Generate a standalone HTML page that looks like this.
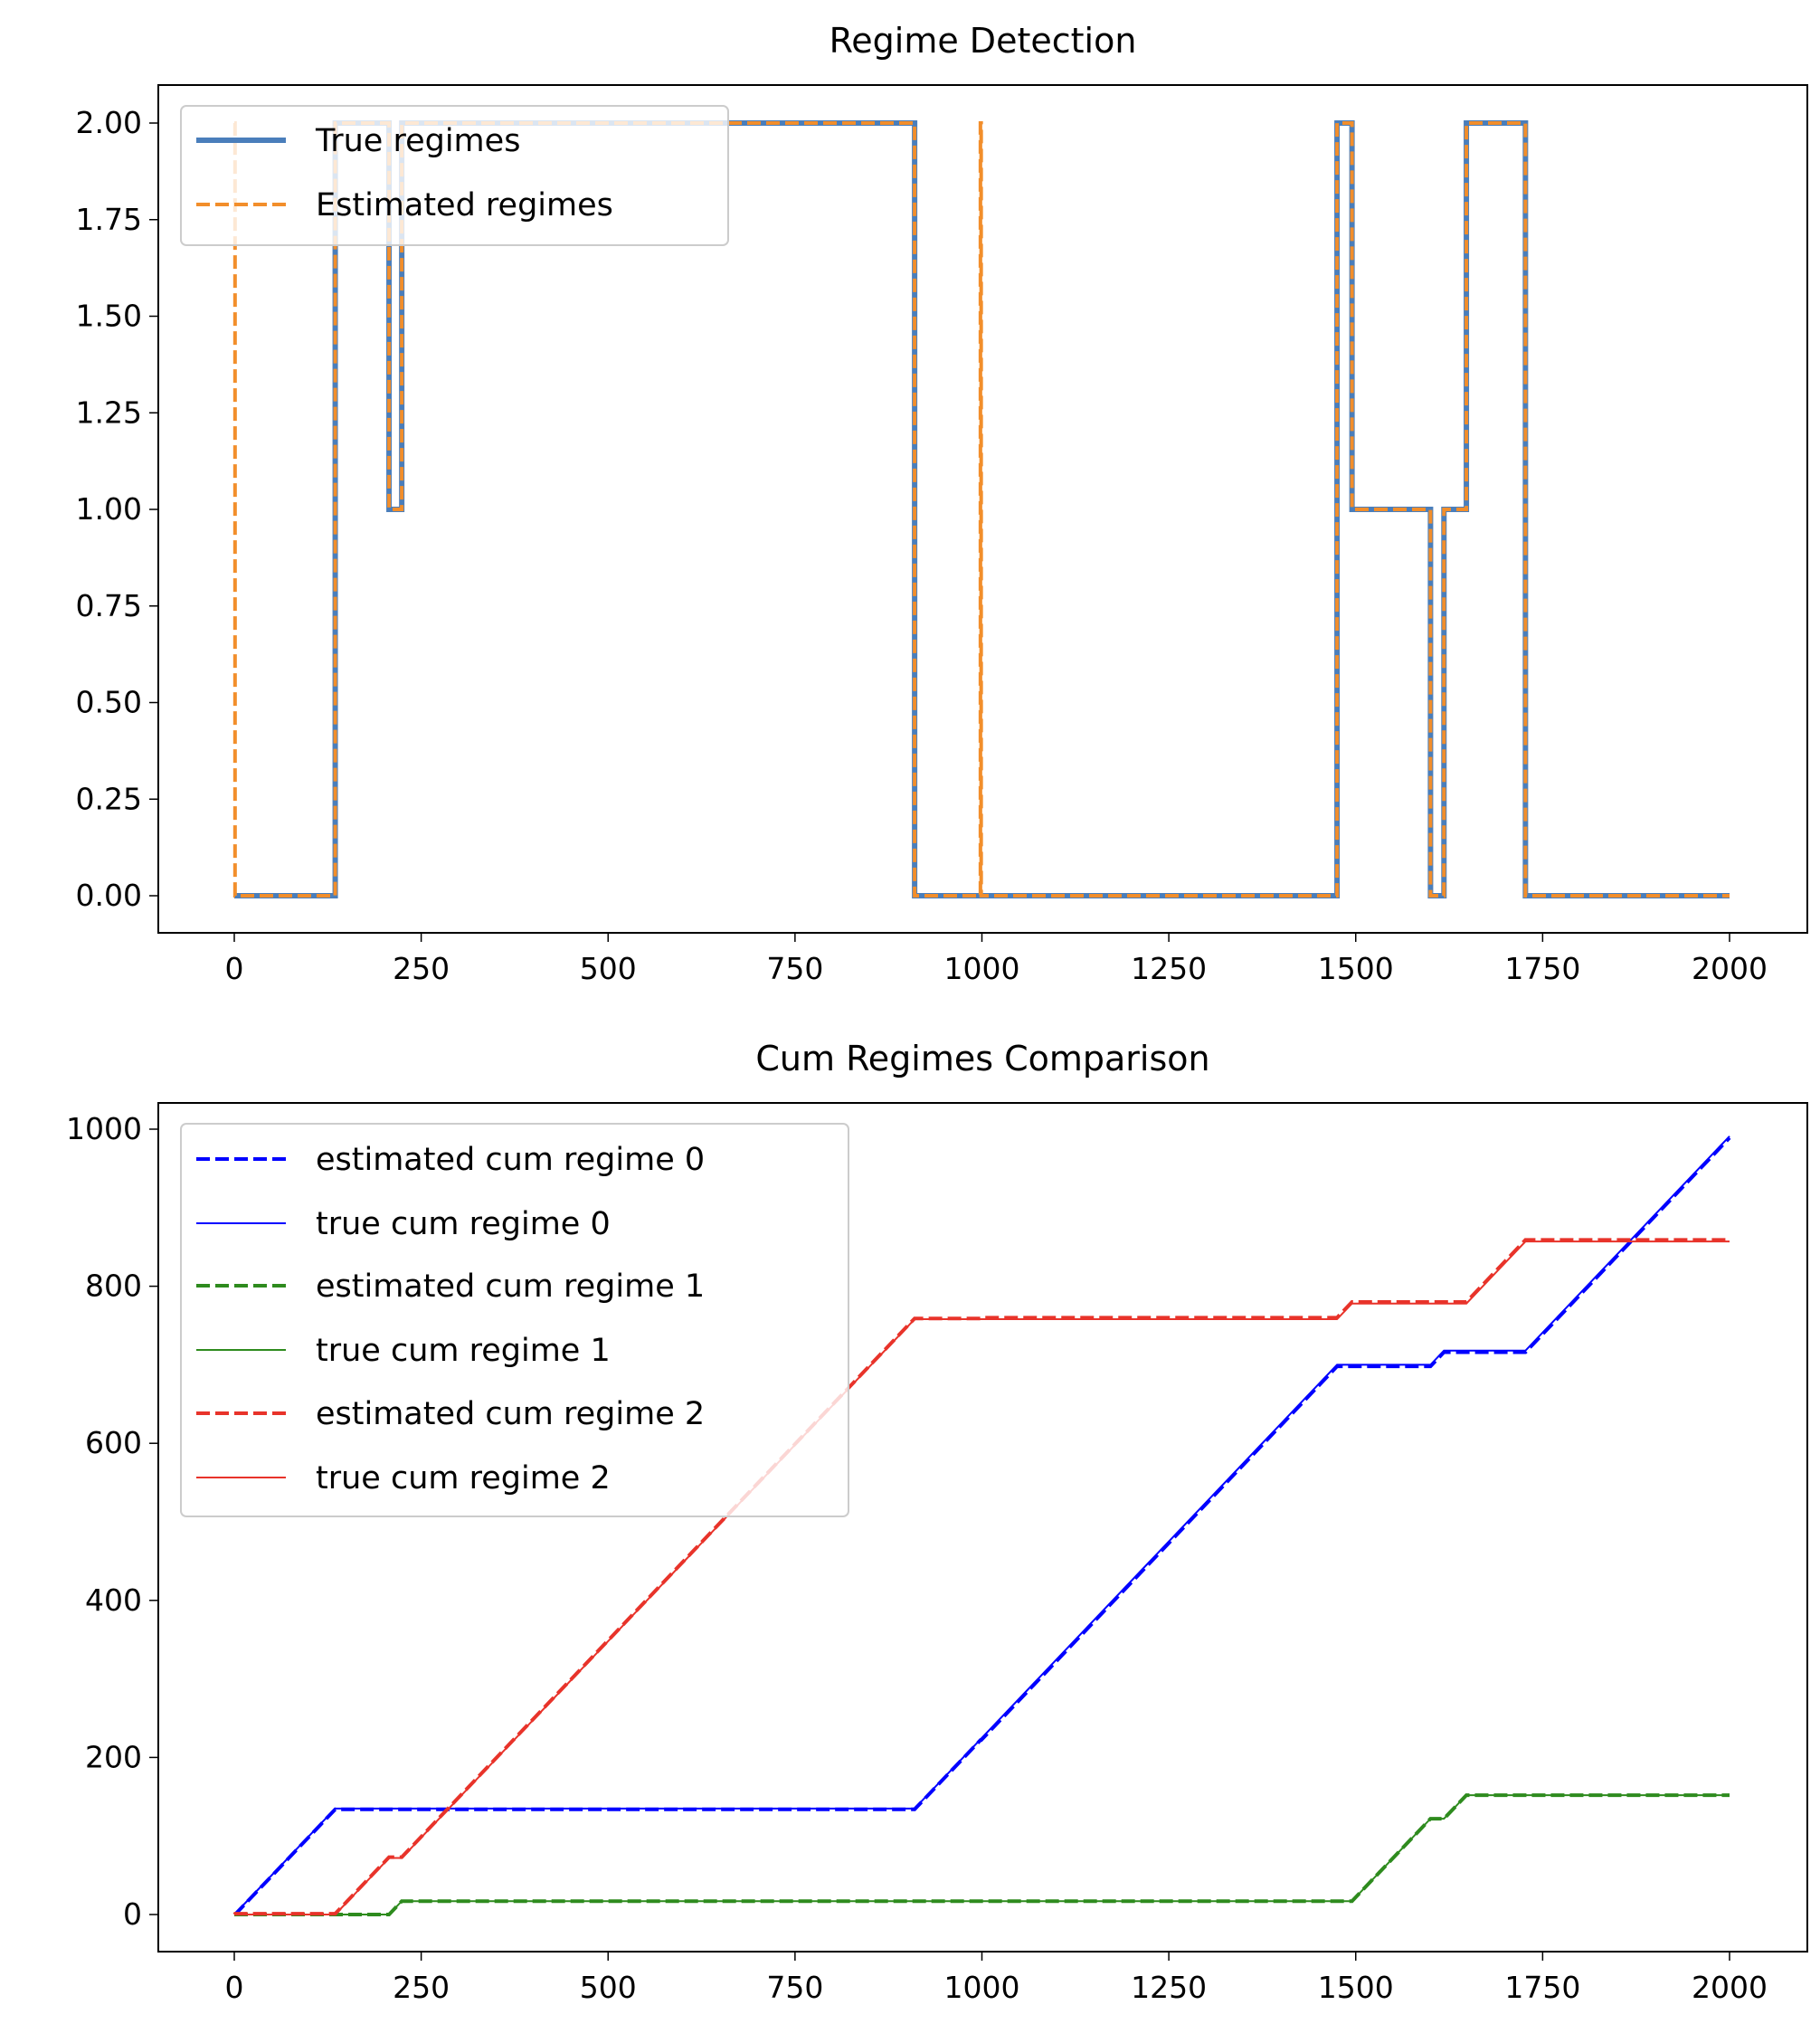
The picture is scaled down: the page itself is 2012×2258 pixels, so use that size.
<!DOCTYPE html>
<html><head><meta charset="utf-8"><style>
html,body{margin:0;padding:0;background:#fff;}
svg{display:block;font-family:"DejaVu Sans","Liberation Sans",sans-serif;}
</style></head><body>
<svg id="fig" width="2012" height="2258" viewBox="0 0 2012 2258" xmlns="http://www.w3.org/2000/svg"></svg>
<script>
// Regime segments (start, end, regime)
const segStarts = [0, 135, 207, 224, 910, 1475, 1495, 1600, 1618, 1648, 1727];
const segEnds   = [135, 207, 224, 910, 1475, 1495, 1600, 1618, 1648, 1727, 2000];
const trueRegimes = [0, 2, 1, 2, 0, 2, 1, 0, 1, 2, 0];
const estStarts = [0, 1, 135, 207, 224, 910, 998, 999, 1475, 1495, 1600, 1618, 1648, 1727];
const estEnds   = [1, 135, 207, 224, 910, 998, 999, 1475, 1495, 1600, 1618, 1648, 1727, 2000];
const estRegimes = [2, 0, 2, 1, 2, 0, 2, 0, 2, 1, 0, 1, 2, 0];
const xTicks = [0, 250, 500, 750, 1000, 1250, 1500, 1750, 2000];
const yTicksTop = [0, 0.25, 0.5, 0.75, 1.0, 1.25, 1.5, 1.75, 2.0];
const yTicksBot = [0, 200, 400, 600, 800, 1000];

const NS = "http://www.w3.org/2000/svg";
const svg = document.getElementById('fig');
function el(tag, attrs, parent, text){
  const e = document.createElementNS(NS, tag);
  for (const k in attrs) e.setAttribute(k, attrs[k]);
  if (text !== undefined) e.textContent = text;
  (parent || svg).appendChild(e);
  return e;
}
const AX_L = 175, AX_R = 1998;
const sx = v => 259 + (v / 2000) * (1912 - 259);
const syTop = v => 990 - (v / 2) * (990 - 136);
const syBot = v => 2116 - (v / 1000) * (2116 - 1248);

function drawAxes(top, bottom, yTicks, sy, fmt, title, titleY, prefix){
  const t = el('text', {x: (AX_L + AX_R) / 2, y: titleY, 'font-size': 38, 'text-anchor': 'middle', fill: '#000'}, svg, title);
  
  
  xTicks.forEach(v => {
    const l = el('line', {x1: sx(v), x2: sx(v), y1: bottom, y2: bottom + 10, stroke: '#000', 'stroke-width': 1.5});
    
    
    const tx = el('text', {x: sx(v), y: bottom + 51, 'font-size': 33, 'text-anchor': 'middle'}, svg, String(v));
    
    
  });
  yTicks.forEach(v => {
    const l = el('line', {x1: AX_L - 10, x2: AX_L, y1: sy(v), y2: sy(v), stroke: '#000', 'stroke-width': 1.5});
    
    
    const tx = el('text', {x: AX_L - 18, y: sy(v) + 11, 'font-size': 33, 'text-anchor': 'end'}, svg, fmt(v));
    
    
  });
}
function frame(top, bottom, prefix){
  const r = el('rect', {x: AX_L, y: top, width: AX_R - AX_L, height: bottom - top, fill: 'none', stroke: '#000', 'stroke-width': 2});
  
  
}
function stepPath(starts, ends, vals, sy){
  let d = '';
  for (let i = 0; i < starts.length; i++){
    d += (i === 0 ? 'M' : 'L') + sx(starts[i]) + ',' + sy(vals[i]) + ' L' + sx(ends[i]) + ',' + sy(vals[i]) + ' ';
  }
  return d;
}
function cumPts(starts, ends, vals, regime){
  let c = 0; const pts = [[0, 0]];
  for (let i = 0; i < starts.length; i++){
    if (vals[i] === regime) c += ends[i] - starts[i];
    pts.push([ends[i], c]);
  }
  return pts;
}
function cumPath(pts, sy){
  return pts.map((p, i) => (i ? 'L' : 'M') + sx(p[0]) + ',' + sy(p[1])).join(' ');
}

// ---- top chart
drawAxes(94, 1031, yTicksTop, syTop, v => v.toFixed(2), 'Regime Detection', 58, 'top');
const tp = el('path', {d: stepPath(segStarts, segEnds, trueRegimes, syTop), fill: 'none', stroke: '#4a7ebb', 'stroke-width': 6});


const ep = el('path', {d: stepPath(estStarts, estEnds, estRegimes, syTop), fill: 'none', stroke: '#f28e2b', 'stroke-width': 4, 'stroke-dasharray': '15,6'});


frame(94, 1031, 'top');
const lg1 = el('g', {});


el('rect', {x: 200, y: 117, width: 605, height: 154, rx: 6, fill: '#fff', 'fill-opacity': 0.8, stroke: '#ccc', 'stroke-width': 2}, lg1);
[['True regimes', '#4a7ebb', 6, null, 155], ['Estimated regimes', '#f28e2b', 4, '15,6', 226]].forEach(e => {
  const g = el('g', {}, lg1);
  
  
  const a = {x1: 217, x2: 316, y1: e[4], y2: e[4], stroke: e[1], 'stroke-width': e[2]};
  if (e[3]) a['stroke-dasharray'] = e[3];
  el('line', a, g);
  el('text', {x: 349, y: e[4] + 12, 'font-size': 35}, g, e[0]);
});

// ---- bottom chart
drawAxes(1219, 2157, yTicksBot, syBot, v => String(v), 'Cum Regimes Comparison', 1183, 'bottom');
const colors = ['#0000ff', '#2e8b1e', '#e8332a'];
[0, 1, 2].forEach(r => {
  const tr = el('path', {d: cumPath(cumPts(segStarts, segEnds, trueRegimes, r), syBot), fill: 'none', stroke: colors[r], 'stroke-width': 2});
  
  
  const es = el('path', {d: cumPath(cumPts(estStarts, estEnds, estRegimes, r), syBot), fill: 'none', stroke: colors[r], 'stroke-width': 4, 'stroke-dasharray': '15,6'});
  
  
});
frame(1219, 2157, 'bottom');
const lg2 = el('g', {});


el('rect', {x: 200, y: 1242, width: 738, height: 434, rx: 6, fill: '#fff', 'fill-opacity': 0.8, stroke: '#ccc', 'stroke-width': 2}, lg2);
const entries = [
  ['estimated cum regime 0', colors[0], true, 1281],
  ['true cum regime 0', colors[0], false, 1352],
  ['estimated cum regime 1', colors[1], true, 1421],
  ['true cum regime 1', colors[1], false, 1492],
  ['estimated cum regime 2', colors[2], true, 1562],
  ['true cum regime 2', colors[2], false, 1633]
];
entries.forEach(e => {
  const g = el('g', {}, lg2);
  
  
  const a = {x1: 217, x2: 316, y1: e[3], y2: e[3], stroke: e[1], 'stroke-width': e[2] ? 4 : 2};
  if (e[2]) a['stroke-dasharray'] = '15,6';
  el('line', a, g);
  el('text', {x: 349, y: e[3] + 12, 'font-size': 35}, g, e[0]);
});
</script>
</body></html>
